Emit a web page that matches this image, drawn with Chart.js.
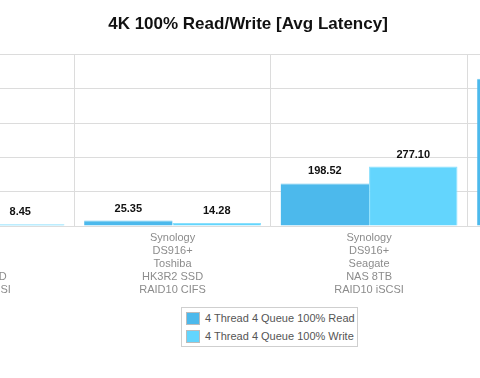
<!DOCTYPE html>
<html>
<head>
<meta charset="utf-8">
<script src="https://cdn.jsdelivr.net/npm/chart.js@4/dist/chart.umd.min.js"></script>
<style>
  html, body { margin: 0; padding: 0; background: #fff; width: 480px; height: 378px; overflow: hidden; position: relative; }
  #wrap { position: absolute; left: -200px; top: 0; width: 896px; height: 306px; }
  #legend { position: absolute; left: 181px; top: 307px; width: 175px; height: 38px; border: 1px solid #cfcfcf;
            font: 11px "Liberation Sans", Arial, sans-serif; color: #555; }
  #legend .row { position: absolute; left: 4px; height: 14px; line-height: 14px; white-space: nowrap; }
  #legend .sw { display: inline-block; width: 12px; height: 11px; border: 1px solid #bbb; vertical-align: middle; margin-right: 5px; position: relative; top: -1px; }
</style>
</head>
<body>
<div id="wrap"><canvas id="latencyChart" width="896" height="306"></canvas></div>
<div id="legend"></div>
<script>
// ── 4K 100% Read/Write – Avg Latency ──

const categories = [
  ['Synology', 'DS916+', 'Toshiba', 'HK3R2 SSD', 'RAID10 iSCSI'],
  ['Synology', 'DS916+', 'Toshiba', 'HK3R2 SSD', 'RAID10 CIFS'],
  ['Synology', 'DS916+', 'Seagate', 'NAS 8TB', 'RAID10 iSCSI'],
  ['Synology', 'DS916+', 'Seagate', 'NAS 8TB', 'RAID10 CIFS']
];
const readValues  = [12.10, 25.35, 198.52, 686.00];
const writeValues = [8.45, 14.28, 277.10, 720.00];
const seriesNames = ['4 Thread 4 Queue 100% Read', '4 Thread 4 Queue 100% Write'];
const seriesColors = ['#4cb9ec', '#63d5fd'];
const yTicks = [0, 160, 320, 480, 640, 800];

const FONT = '"Liberation Sans", Arial, sans-serif';

const valueLabels = {
  id: 'valueLabels',
  afterDatasetsDraw(chart) {
    const ctx = chart.ctx;
    ctx.save();
    ctx.font = 'bold 11px ' + FONT;
    ctx.fillStyle = '#111';
    ctx.textAlign = 'center';
    ctx.textBaseline = 'middle';
    chart.data.datasets.forEach((ds, i) => {
      chart.getDatasetMeta(i).data.forEach((bar, j) => {
        ctx.fillText(ds.data[j].toFixed(2), bar.x, bar.y - 12);
      });
    });
    ctx.restore();
  }
};

new Chart(document.getElementById('latencyChart').getContext('2d'), {
  type: 'bar',
  data: {
    labels: categories,
    datasets: [
      { label: seriesNames[0], data: readValues, backgroundColor: seriesColors[0], borderColor: '#6cc7f0', borderWidth: { top: 1, left: 0, right: 0, bottom: 0 }, borderSkipped: 'bottom' },
      { label: seriesNames[1], data: writeValues, backgroundColor: seriesColors[1], borderColor: '#8ae0fd', borderWidth: 1, borderSkipped: 'bottom' }
    ]
  },
  options: {
    responsive: false,
    animation: false,
    categoryPercentage: 0.9,
    barPercentage: 1.0,
    layout: { padding: { left: 32.2, right: 32.2, top: 0, bottom: 4 } },
    plugins: {
      legend: { display: false },
      tooltip: { enabled: false },
      title: { display: true, text: '4K 100% Read/Write [Avg Latency]', color: '#111', font: { family: FONT, size: 17, weight: 'bold' }, padding: { top: 14, bottom: 20 } }
    },
    scales: {
      y: {
        min: 0, max: 800,
        afterBuildTicks: (s) => { s.ticks = yTicks.map(v => ({ value: v })); },
        afterFit: (s) => { s.width = 45.6; },
        ticks: { display: false },
        grid: { color: '#dcdcdc', drawTicks: false },
        border: { display: false }
      },
      x: {
        grid: { color: '#dcdcdc', drawTicks: false, offset: true },
        border: { color: '#dcdcdc' },
        ticks: { color: '#8c8c8c', padding: 5, maxRotation: 0, autoSkip: false, font: { family: FONT, size: 11, lineHeight: 1.2 } }
      }
    }
  },
  plugins: [valueLabels]
});

// legend box
const legend = document.getElementById('legend');
seriesNames.forEach((name, i) => {
  const row = document.createElement('div');
  row.className = 'row';
  row.style.top = (3 + i * 18) + 'px';
  row.innerHTML = '<span class="sw" style="background:' + seriesColors[i] + '"></span>' + name;
  legend.appendChild(row);
});
</script>
</body>
</html>
